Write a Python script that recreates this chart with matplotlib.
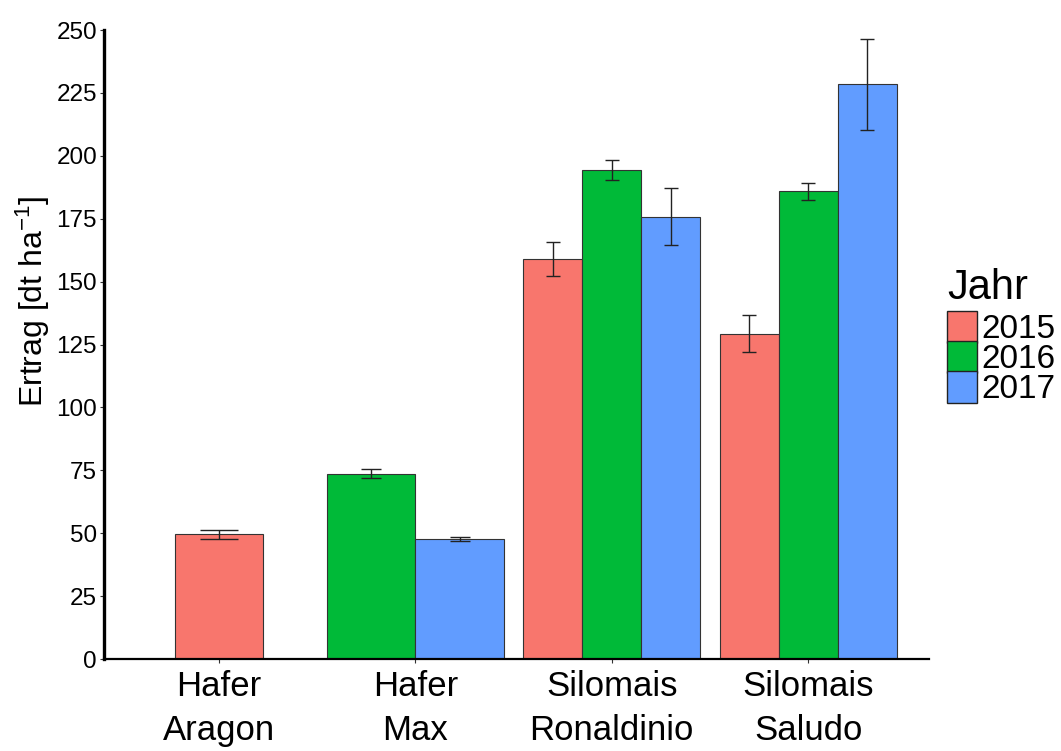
import matplotlib
matplotlib.use("Agg")
import matplotlib.pyplot as plt
from matplotlib.patches import Patch
import numpy as np

plt.rcParams['font.family'] = ['Liberation Sans', 'DejaVu Sans']
plt.rcParams['mathtext.default'] = 'regular'

categories = ["Hafer\nAragon", "Hafer\nMax", "Silomais\nRonaldinio", "Silomais\nSaludo"]
years = ["2015", "2016", "2017"]
colors = ["#F8766D", "#00BA38", "#619CFF"]

# values per year (None = no data)
y2015 = [49.5, None, 159.1, 129.3]
y2016 = [None, 73.7, 194.4, 185.9]
y2017 = [None, 47.7, 175.8, 228.4]
e2015 = [1.8, None, 6.8, 7.3]
e2016 = [None, 1.9, 4.0, 3.5]
e2017 = [None, 0.9, 11.4, 18.2]

values = [y2015, y2016, y2017]
errors = [e2015, e2016, e2017]

fig = plt.figure(figsize=(10.61, 7.51), dpi=100)
ax = fig.add_axes([0.098, 0.1225, 0.7776, 0.8375])

group_width = 0.9
capsizes = {1: 13.7, 2: 7.2, 3: 4.7}
for ci in range(len(categories)):
    present = [yi for yi in range(3) if values[yi][ci] is not None]
    n = len(present)
    if n == 1:
        w = group_width / 2
    else:
        w = group_width / n
    start = (ci + 1) - w * n / 2
    for k, yi in enumerate(present):
        xc = start + w * (k + 0.5)
        v = values[yi][ci]
        ax.bar(xc, v, width=w, color=colors[yi], edgecolor="#333333", linewidth=0.8, zorder=2)
        ax.errorbar(xc, v, yerr=errors[yi][ci], fmt='none', ecolor="#222222",
                    elinewidth=1.0, capsize=capsizes[n], capthick=1.0, zorder=3)

ax.set_xlim(0.415, 4.615)
ax.set_ylim(0, 250)
ax.set_xticks(np.arange(1, len(categories) + 1))
ax.set_xticklabels(categories, fontsize=25, linespacing=1.42)
yt = np.arange(0, 251, 25)
ax.set_yticks(yt)
ax.set_yticklabels([str(t) for t in yt], fontsize=17.5)
ax.tick_params(axis='both', length=3, width=0.8, color="#333333", pad=2)
ax.tick_params(axis='x', pad=5)
for s in ["top", "right"]:
    ax.spines[s].set_visible(False)
ax.spines["left"].set_linewidth(2.4)
ax.spines["bottom"].set_linewidth(1.6)
ax.set_ylabel("Ertrag [dt ha$^{-1}$]", fontsize=23, labelpad=3, y=0.568)

handles = [Patch(facecolor=c, edgecolor="#222222", linewidth=1.0) for c in colors]
leg = fig.legend(handles, years, title="Jahr", loc="center left",
                 bbox_to_anchor=(0.893, 0.552), frameon=False,
                 fontsize=24, title_fontsize=30, handlelength=0.9, handleheight=1.1,
                 labelspacing=-0.13, handletextpad=0.12, borderpad=0, borderaxespad=0)
leg._legend_box.align = "left"
leg._legend_box.sep = 2

fig.savefig("out.png", dpi=100)
